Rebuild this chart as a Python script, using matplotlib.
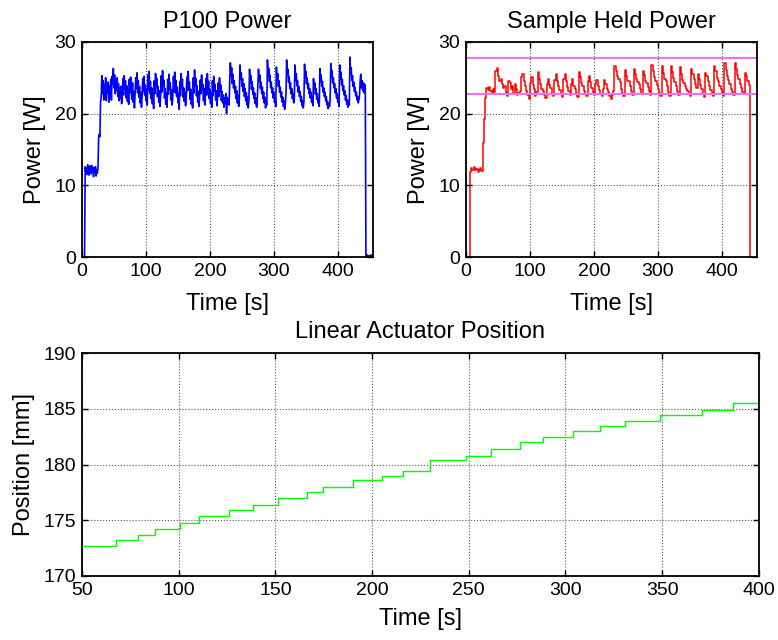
import numpy as np
import matplotlib
matplotlib.use("Agg")
import matplotlib.pyplot as plt

plt.rcParams['font.family'] = ['Liberation Sans', 'DejaVu Sans']

# P100 power, 1 s samples from t = 0
p100_power = [
    0, 0, 0, 0, 0, 12.6, 11.8, 12.4, 11.5, 12.9,
    12.1, 11.4, 12.7, 12.0, 11.6, 12.8, 11.9, 12.3, 11.2, 12.5,
    11.8, 12.6, 11.3, 12.2, 11.7, 12.4, 16.6, 17.1, 16.8, 21.6,
    22.3, 25.3, 22.8, 24.6, 21.9, 24.1, 22.5, 25.0, 21.8, 23.7,
    22.9, 24.4, 21.6, 23.9, 22.4, 24.8, 21.9, 25.2, 24.1, 26.3,
    23.6, 25.4, 22.8, 24.7, 23.3, 25.0, 22.4, 24.2, 21.8, 23.6,
    22.1, 23.8, 21.4, 22.9, 24.9, 22.6, 25.3, 23.4, 24.6, 22.2,
    23.9, 21.7, 23.3, 21.3, 24.8, 22.9, 25.1, 23.2, 22.0, 24.3,
    21.6, 23.1, 20.8, 22.7, 25.0, 23.5, 25.7, 22.9, 24.6, 22.3,
    23.8, 21.5, 23.0, 20.9, 22.4, 24.9, 23.1, 25.2, 22.6, 24.0,
    21.8, 23.4, 21.2, 25.4, 23.3, 25.9, 22.8, 24.5, 22.1, 23.6,
    21.4, 22.9, 20.7, 24.6, 22.8, 25.6, 23.7, 24.9, 22.4, 23.8,
    21.6, 23.2, 21.0, 22.6, 25.3, 23.0, 26.0, 23.9, 24.7, 22.2,
    23.5, 21.3, 22.9, 20.9, 24.8, 22.7, 25.5, 23.4, 24.3, 21.9,
    23.3, 21.2, 22.6, 25.2, 23.1, 25.8, 22.9, 24.6, 22.4, 23.7,
    21.5, 22.8, 20.6, 24.5, 22.5, 25.6, 23.6, 24.8, 22.3, 23.6,
    21.7, 23.0, 21.1, 22.4, 25.1, 23.2, 25.9, 23.5, 24.4, 22.0,
    23.4, 21.3, 22.8, 20.8, 25.0, 22.9, 26.1, 23.8, 24.9, 22.5,
    23.9, 21.6, 23.1, 21.0, 22.7, 24.7, 22.8, 25.4, 23.3, 24.1,
    21.8, 23.5, 21.2, 22.6, 24.9, 22.6, 25.6, 23.5, 24.5, 22.1,
    23.4, 21.4, 22.9, 20.9, 24.6, 22.5, 25.2, 23.2, 24.1, 21.9,
    23.2, 21.1, 22.5, 24.3, 22.4, 25.0, 23.1, 24.0, 21.8, 23.1,
    21.5, 22.6, 20.9, 22.2, 21.4, 22.8, 20.0, 22.3, 21.3, 22.0,
    21.2, 24.6, 27.1, 25.3, 26.4, 24.2, 25.5, 23.6, 24.6, 22.9,
    23.8, 22.1, 23.2, 21.5, 22.6, 21.0, 22.1, 26.8, 24.9, 25.7,
    23.8, 24.9, 23.1, 24.2, 22.4, 23.5, 21.8, 22.9, 21.2, 22.3,
    20.8, 22.0, 26.2, 24.3, 25.3, 23.4, 24.5, 22.7, 23.6, 22.1,
    22.9, 21.4, 22.2, 20.9, 21.8, 24.0, 26.2, 24.5, 25.4, 23.5,
    24.4, 22.8, 23.7, 22.1, 23.0, 21.5, 22.3, 20.8, 21.7, 21.2,
    27.5, 25.2, 26.3, 24.5, 25.4, 23.6, 24.4, 22.9, 23.6, 22.2,
    23.0, 21.6, 22.2, 21.0, 26.5, 24.6, 25.6, 23.8, 24.6, 23.0,
    23.7, 22.3, 23.0, 21.6, 22.3, 21.0, 21.8, 20.6, 21.5, 22.8,
    27.5, 25.4, 26.2, 24.4, 25.2, 23.5, 24.3, 22.8, 23.5, 22.1,
    22.8, 21.5, 22.1, 26.8, 24.7, 25.6, 23.9, 24.6, 23.0, 23.8,
    22.4, 23.1, 21.7, 22.4, 21.1, 21.8, 20.8, 21.6, 26.9, 25.0,
    25.9, 24.2, 25.0, 23.5, 24.2, 22.8, 23.5, 22.2, 23.0, 21.6,
    22.4, 21.1, 24.9, 23.4, 24.3, 22.7, 23.5, 22.0, 22.8, 21.5,
    22.0, 21.0, 26.3, 24.6, 25.4, 23.8, 24.5, 23.0, 23.6, 22.4,
    23.0, 21.8, 22.4, 21.2, 21.7, 20.7, 21.4, 21.0, 21.8, 27.0,
    25.1, 26.0, 24.3, 25.0, 23.6, 24.2, 22.9, 23.5, 22.2, 22.8,
    21.6, 22.1, 21.0, 26.8, 24.9, 25.8, 24.0, 24.8, 23.2, 23.9,
    22.6, 23.2, 21.9, 22.5, 21.3, 21.9, 20.9, 21.5, 21.2, 27.9,
    25.6, 26.4, 24.6, 25.3, 23.8, 24.4, 23.1, 23.7, 22.5, 23.0,
    21.9, 22.4, 21.5, 21.9, 22.6, 24.7, 25.5, 23.6, 24.6, 23.2,
    24.3, 22.9, 24.1, 23.5, 0.2, 0.1, 0.3, 0.1, 0.2, 0.1,
    0.2, 0.1, 0.3, 0.1, 0.2, 0.1,
]

# sample held power, 2 s samples from t = 0
held_power = [
    0, 0, 0, 11.9, 12.4, 12.2, 12.6, 12.1, 12.3, 11.9,
    12.2, 12.4, 12.0, 15.9, 19.3, 22.2, 23.6, 23.3, 23.7, 23.2,
    22.8, 23.5, 23.0, 25.9, 26.4, 25.3, 24.6, 24.9, 24.1, 23.6,
    23.9, 22.9, 22.4, 24.6, 24.3, 23.5, 23.8, 22.8, 24.2, 23.4,
    22.6, 22.9, 23.2, 25.1, 25.6, 24.5, 23.8, 23.1, 22.6, 22.1,
    24.3, 25.1, 24.0, 23.4, 22.5, 23.0, 25.8, 24.8, 24.2, 23.5,
    23.1, 22.6, 22.2, 24.1, 24.9, 24.0, 23.6, 22.8, 22.4, 24.7,
    25.5, 24.6, 23.8, 23.3, 22.7, 22.3, 24.9, 25.6, 24.5, 23.7,
    23.2, 22.6, 24.2, 24.8, 23.9, 23.4, 22.9, 22.3, 25.8, 25.1,
    24.3, 23.8, 23.2, 22.8, 22.5, 24.6, 25.2, 24.4, 23.6, 23.0,
    22.6, 24.2, 24.7, 23.9, 23.3, 22.8, 22.4, 23.4, 24.7, 24.1,
    23.5, 23.0, 22.5, 22.0, 22.6, 23.1, 26.7, 26.0, 25.2, 24.8,
    24.4, 23.5, 22.9, 22.4, 26.1, 25.3, 24.6, 24.5, 23.8, 23.1,
    22.6, 26.3, 25.6, 24.9, 24.4, 24.1, 23.4, 22.8, 25.9, 25.4,
    24.6, 24.3, 23.7, 23.2, 22.6, 26.8, 26.0, 25.1, 24.6, 24.0,
    23.4, 22.9, 22.5, 26.6, 25.7, 24.9, 24.5, 23.8, 23.0, 22.5,
    26.7, 25.8, 25.0, 24.4, 23.9, 23.2, 22.6, 26.5, 25.6, 24.7,
    24.3, 23.8, 23.5, 23.1, 22.7, 22.4, 26.3, 25.5, 24.8, 24.2,
    23.6, 25.6, 24.9, 24.0, 23.4, 22.8, 22.3, 25.7, 25.2, 24.5,
    23.9, 23.3, 22.9, 22.5, 26.7, 25.9, 25.0, 24.5, 23.9, 23.4,
    22.9, 22.4, 27.0, 26.1, 25.3, 24.7, 24.1, 23.5, 23.0, 22.6,
    27.0, 26.2, 25.4, 24.8, 24.2, 23.6, 23.0, 22.7, 25.7, 25.3,
    24.6, 24.0, 0.0,
]

# limits of the hold band
band_high = 27.7
band_low = 22.7

# actuator position: step times [s] and levels [mm]
step_time = [50, 67.6, 79, 88, 100.7, 110.7, 126, 138.2, 151.5, 166.2,
             174.8, 190.3, 205, 216.2, 230, 248.4, 261.3, 276.5, 288.2,
             304, 317.8, 330.8, 348.9, 370.4, 386.4, 400]
step_pos = [172.7, 173.2, 173.7, 174.2, 174.75, 175.35, 175.9, 176.4, 177.0,
            177.5, 178.0, 178.6, 179.0, 179.4, 180.45, 180.8, 181.4, 182.0,
            182.5, 183.0, 183.5, 183.95, 184.45, 184.9, 185.5, 185.5]

p100_t = np.arange(len(p100_power))
held_t = np.arange(len(held_power)) * 2

FS = 17


def style(ax):
    ax.grid(True, color='0.35', linestyle=':', linewidth=0.8)
    ax.tick_params(direction='in', top=True, right=True, length=4,
                   labelsize=14, width=1, pad=4)
    for s in ax.spines.values():
        s.set_linewidth(1.3)


fig = plt.figure(figsize=(7.78, 6.4), dpi=100)
ax1 = fig.add_axes([0.1054, 0.5984, 0.374, 0.336])
ax2 = fig.add_axes([0.599, 0.5984, 0.374, 0.336])
ax3 = fig.add_axes([0.1054, 0.1, 0.870, 0.348])

ax1.plot(p100_t, p100_power, color='#0000ff', linewidth=1.2)
ax1.set_xlim(0, 455)
ax1.set_ylim(0, 30)
ax1.set_xticks([0, 100, 200, 300, 400])
ax1.set_yticks([0, 10, 20, 30])
ax1.set_title('P100 Power', fontsize=FS, pad=10)
ax1.set_xlabel('Time [s]', fontsize=FS, labelpad=10)
ax1.set_ylabel('Power [W]', fontsize=FS, labelpad=6)
style(ax1)

ax2.plot(held_t, held_power, color='#ff0000', linewidth=1.1,
         drawstyle='steps-post')
ax2.axhline(band_high, color='#f070f0', linewidth=1.5)
ax2.axhline(band_low, color='#f070f0', linewidth=1.5)
ax2.set_xlim(0, 455)
ax2.set_ylim(0, 30)
ax2.set_xticks([0, 100, 200, 300, 400])
ax2.set_yticks([0, 10, 20, 30])
ax2.set_title('Sample Held Power', fontsize=FS, pad=10)
ax2.set_xlabel('Time [s]', fontsize=FS, labelpad=10)
ax2.set_ylabel('Power [W]', fontsize=FS, labelpad=6)
style(ax2)

ax3.plot(step_time, step_pos, color='#00ff00', linewidth=1.0,
         drawstyle='steps-post')
ax3.set_xlim(50, 400)
ax3.set_ylim(170, 190)
ax3.set_xticks(np.arange(50, 401, 50))
ax3.set_yticks([170, 175, 180, 185, 190])
ax3.set_title('Linear Actuator Position', fontsize=FS, pad=11)
ax3.set_xlabel('Time [s]', fontsize=FS, labelpad=7)
ax3.set_ylabel('Position [mm]', fontsize=FS, labelpad=6)
style(ax3)

fig.savefig('out.png', dpi=100)
